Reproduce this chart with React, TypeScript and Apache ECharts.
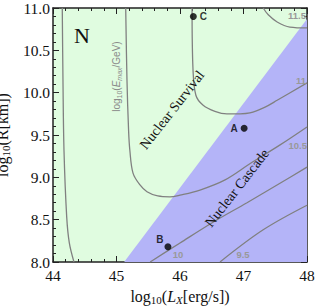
import React, { useEffect, useRef } from "react";
import * as echarts from "echarts";

// ---- data ----
const xRange = [44, 48];
const yRange = [8, 11];
const boundary = [
  [45.12, 8.0],
  [48.0, 10.87],
];
const contourLeft = [
  [44.146, 11.0], [44.157, 10.15], [44.173, 9.32], [44.216, 8.53], [44.257, 8.225], [44.33, 8.0],
];
const contour105 = [
  [45.145, 11.0], [45.165, 10.15], [45.19, 9.56], [45.21, 9.32], [45.26, 9.05], [45.37, 8.91],
  [45.48, 8.83], [45.65, 8.78], [45.84, 8.77], [46.0, 8.79], [46.315, 8.85], [46.71, 8.97],
  [47.1, 9.16], [47.57, 9.38], [48.0, 9.595],
];
const contour11 = [
  [46.19, 11.0], [46.205, 10.27], [46.25, 9.97], [46.36, 9.855], [46.55, 9.78], [46.74, 9.75],
  [46.945, 9.75], [47.1, 9.76], [47.34, 9.83], [47.53, 9.91], [48.0, 10.115],
];
const contour115 = [
  [47.31, 11.0], [47.39, 10.92], [47.53, 10.835], [47.73, 10.775], [48.0, 10.765],
];
const contour10 = [
  [45.53, 8.0], [46.0, 8.225], [46.52, 8.47], [47.055, 8.7], [47.575, 8.93], [48.0, 9.12],
];
const contour95 = [
  [46.63, 8.0], [47.31, 8.38], [48.0, 8.67],
];
const pointNames = ["A", "B", "C"];
const pointX = [47.01, 45.81, 46.21];
const pointY = [9.58, 8.18, 10.9];
const contourLabels = ["11.5", "11", "10.5", "10", "9.5"];
const emaxLabelAt = [45.0, 10.19];

const SERIF = "'Liberation Serif', 'DejaVu Serif', serif";
const SANS = "'Liberation Sans', Arial, sans-serif";
const GREEN = "#e0fce0";
const BLUE = "#b4b4f8";
const LINE = "#808080";
const LABELGRAY = "#999999";
const EMAXGRAY = "#8a8a8a";

export default function App() {
  const ref = useRef<HTMLDivElement>(null);
  useEffect(() => {
    document.body.style.margin = "0";
    const chart = echarts.init(ref.current!, undefined, { renderer: "svg" });

    const axisCommon = {
      type: "value" as const,
      axisLine: { show: true, lineStyle: { color: "#222", width: 1.5 } },
      axisTick: { show: true, inside: true, length: 6, lineStyle: { color: "#222", width: 1 } },
      minorTick: { show: true, splitNumber: 5, length: 3, lineStyle: { color: "#222", width: 1 } },
      splitLine: { show: false },
      minorSplitLine: { show: false },
    };

    const contourSeries = (data: number[][], extra: any = {}) => ({
      type: "line" as const,
      data,
      smooth: 0.35,
      showSymbol: false,
      symbol: "none",
      silent: true,
      clip: true,
      lineStyle: { color: LINE, width: 1.3 },
      xAxisIndex: 0,
      yAxisIndex: 0,
      z: 3,
      ...extra,
    });

    const lblPos: [number, number, string][] = [
      [306, 15, "right"],
      [306, 80, "right"],
      [307, 145, "right"],
      [178, 254, "center"],
      [243, 254, "center"],
    ];

    const nameRich = {
      n: { fontFamily: SERIF, fontSize: 16, color: "#111", lineHeight: 18 },
      it: { fontFamily: SERIF, fontSize: 16, color: "#111", fontStyle: "italic", lineHeight: 18 },
      sb: { fontFamily: SERIF, fontSize: 11, color: "#111", padding: [7, 0, 0, 0], lineHeight: 11 },
      sbi: { fontFamily: SERIF, fontSize: 11, color: "#111", fontStyle: "italic", padding: [7, 0, 0, 0], lineHeight: 11 },
    };

    chart.setOption({
      animation: false,
      grid: {
        left: 53,
        top: 8,
        width: 254,
        height: 254,
        show: true,
        backgroundColor: GREEN,
        borderWidth: 0,
        containLabel: false,
        outerBoundsMode: "none",
      },
      xAxis: [
        {
          ...axisCommon,
          position: "bottom",
          min: xRange[0],
          max: xRange[1],
          interval: 1,
          axisLabel: { color: "#111", fontFamily: SERIF, fontSize: 15.5, margin: 5 },
          name: "{n|log}{sb|10}{n|(}{it|L}{sbi|X}{n|[erg/s])}",
          nameLocation: "middle",
          nameGap: 21,
          nameTextStyle: { color: "#111", fontFamily: SERIF, fontSize: 16, rich: nameRich },
        },
        {
          ...axisCommon,
          position: "top",
          min: xRange[0],
          max: xRange[1],
          interval: 1,
          axisLabel: { show: false },
        },
      ],
      yAxis: [
        {
          ...axisCommon,
          position: "left",
          min: yRange[0],
          max: yRange[1],
          interval: 0.5,
          axisLabel: {
            color: "#111",
            fontFamily: SERIF,
            fontSize: 15.5,
            margin: 3,
            formatter: (v: number) => v.toFixed(1),
          },
          name: "{n|log}{sb|10}{n|(R[km])}",
          nameLocation: "middle",
          nameRotate: 90,
          nameGap: 31,
          nameTextStyle: { color: "#111", fontFamily: SERIF, fontSize: 16, rich: nameRich },
        },
        {
          ...axisCommon,
          position: "right",
          min: yRange[0],
          max: yRange[1],
          interval: 0.5,
          axisLabel: { show: false },
        },
      ],
      series: [
        {
          type: "line",
          data: boundary,
          showSymbol: false,
          symbol: "none",
          silent: true,
          lineStyle: { width: 0, opacity: 0 },
          areaStyle: { color: BLUE, opacity: 1, origin: "start" },
          xAxisIndex: 0,
          yAxisIndex: 0,
          z: 2,
        },
        contourSeries(contourLeft),
        contourSeries(contour105, {
          markPoint: {
            silent: true,
            symbol: "circle",
            symbolSize: 1,
            itemStyle: { color: "rgba(0,0,0,0)" },
            data: [{ coord: emaxLabelAt }],
            label: {
              show: true,
              position: "inside",
              rotate: 90,
              formatter: "{n|log}{sb|10}{n|(}{it|E}{sbi|max}{n|/GeV)}",
              rich: {
                n: { fontFamily: SANS, fontSize: 10, color: EMAXGRAY, lineHeight: 12 },
                it: { fontFamily: SANS, fontSize: 10, color: EMAXGRAY, fontStyle: "italic", lineHeight: 12 },
                sb: { fontFamily: SANS, fontSize: 7, color: EMAXGRAY, padding: [5, 0, 0, 0], lineHeight: 7 },
                sbi: { fontFamily: SANS, fontSize: 7, color: EMAXGRAY, fontStyle: "italic", padding: [5, 0, 0, 0], lineHeight: 7 },
              },
            },
          },
        }),
        contourSeries(contour11),
        contourSeries(contour115),
        contourSeries(contour10),
        contourSeries(contour95),
        {
          type: "scatter",
          xAxisIndex: 0,
          yAxisIndex: 0,
          symbolSize: 7,
          itemStyle: { color: "#000" },
          z: 5,
          data: pointNames.map((n, i) => ({
            name: n,
            value: [pointX[i], pointY[i]],
            label: {
              show: true,
              formatter: n,
              color: "#000",
              fontFamily: SANS,
              fontWeight: "bold",
              fontSize: 10,
              position: n === "C" ? "right" : "left",
              distance: n === "B" ? 1 : 3,
              offset: n === "B" ? [0, -7] : [0, 0],
            },
          })),
        },
      ],
      graphic: [
        {
          type: "text",
          x: 82,
          y: 35,
          z: 10,
          style: { text: "N", fontFamily: SERIF, fontSize: 22, fill: "#111", align: "center", verticalAlign: "middle" },
        },
        {
          type: "text",
          x: 172,
          y: 110,
          rotation: (52 * Math.PI) / 180,
          z: 10,
          style: { text: "Nuclear Survival", fontFamily: SERIF, fontSize: 14, fill: "#111", align: "center", verticalAlign: "middle" },
        },
        {
          type: "text",
          x: 237,
          y: 188,
          rotation: (52 * Math.PI) / 180,
          z: 10,
          style: { text: "Nuclear Cascade", fontFamily: SERIF, fontSize: 14, fill: "#111", align: "center", verticalAlign: "middle" },
        },
        ...contourLabels.map((t, i) => ({
          type: "text",
          x: lblPos[i][0],
          y: lblPos[i][1],
          z: 10,
          style: {
            text: t,
            fontFamily: SANS,
            fontWeight: "bold",
            fontSize: 9.5,
            fill: LABELGRAY,
            align: lblPos[i][2],
            verticalAlign: "middle",
          },
        })),
      ],
    });
    return () => chart.dispose();
  }, []);
  return <div ref={ref} style={{ width: 316, height: 306 }} />;
}
